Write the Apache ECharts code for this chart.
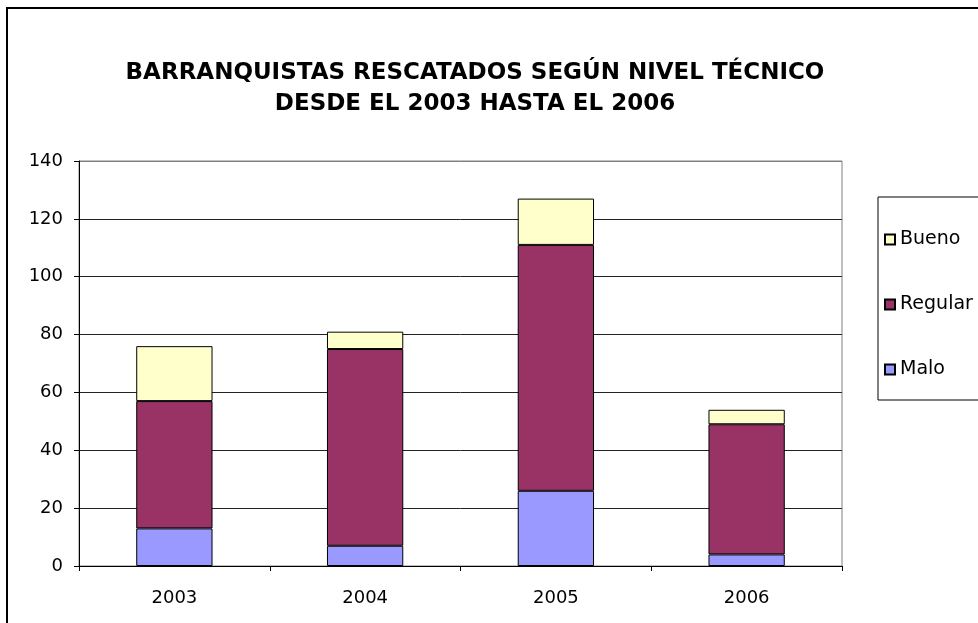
<!DOCTYPE html>
<html>
<head>
<meta charset="utf-8">
<script src="https://cdn.jsdelivr.net/npm/echarts@6/dist/echarts.min.js"></script>
<style>
  html, body { margin: 0; padding: 0; background: #fff; }
  #chart { width: 978px; height: 623px; }
</style>
</head>
<body>
<div id="chart"></div>
<script>
const years = ['2003', '2004', '2005', '2006']
const malo = [13, 7, 26, 4]
const regular = [44, 68, 85, 45]
const bueno = [19, 6, 16, 5]

const chart = echarts.init(document.getElementById('chart'))
const font = 'DejaVu Sans'

const barStyle = color => ({ color: color, borderColor: '#000', borderWidth: 1 })

const option = {
  animation: false,
  backgroundColor: '#fff',
  title: {
    text: 'BARRANQUISTAS RESCATADOS SEGÚN NIVEL TÉCNICO\nDESDE EL 2003 HASTA EL 2006',
    left: 470,
    top: 53,
    textAlign: 'center',
    textStyle: {
      fontFamily: font,
      fontSize: 23,
      fontWeight: 'bold',
      color: '#000',
      lineHeight: 31
    }
  },
  grid: {
    left: 79,
    right: 136,
    top: 161,
    bottom: 57,
    show: true,
    borderColor: '#808080',
    borderWidth: 1
  },
  legend: {
    orient: 'vertical',
    left: 878,
    top: 197,
    padding: [33, 60, 21, 6],
    itemGap: 46,
    itemWidth: 10,
    itemHeight: 10,
    icon: 'rect',
    borderColor: '#000',
    borderWidth: 1,
    data: ['Bueno', 'Regular', 'Malo'],
    textStyle: { fontFamily: font, fontSize: 19, color: '#000' }
  },
  xAxis: {
    type: 'category',
    data: years,
    axisLine: { lineStyle: { color: '#000', width: 1 } },
    axisTick: { show: true, length: 5, lineStyle: { color: '#000' } },
    axisLabel: { fontFamily: font, fontSize: 18, color: '#000', margin: 23 }
  },
  yAxis: {
    type: 'value',
    min: 0,
    max: 140,
    interval: 20,
    axisLine: { show: true, lineStyle: { color: '#000', width: 1 } },
    axisTick: { show: true, length: 5, lineStyle: { color: '#000' } },
    axisLabel: { fontFamily: font, fontSize: 18, color: '#000', margin: 16 },
    splitLine: {
      lineStyle: {
        color: ['#222', '#222', '#222', '#222', '#222', '#222', '#222', '#808080']
      }
    }
  },
  series: [
    { name: 'Malo', type: 'bar', stack: 'total', barWidth: '40%', data: malo, itemStyle: barStyle('#9999FF') },
    { name: 'Regular', type: 'bar', stack: 'total', barWidth: '40%', data: regular, itemStyle: barStyle('#993366') },
    { name: 'Bueno', type: 'bar', stack: 'total', barWidth: '40%', data: bueno, itemStyle: barStyle('#FFFFCC') }
  ],
  graphic: [
    {
      type: 'rect',
      shape: { x: 7, y: 8, width: 1000, height: 700 },
      style: { fill: 'none', stroke: '#000', lineWidth: 2 },
      silent: true,
      z: 100
    }
  ]
}

chart.setOption(option)
</script>
</body>
</html>
